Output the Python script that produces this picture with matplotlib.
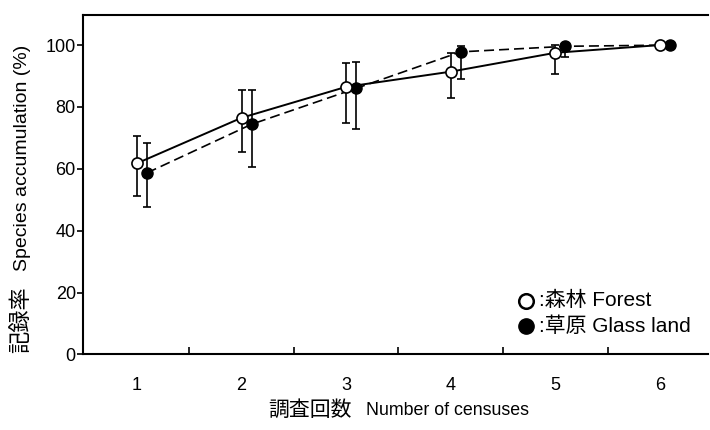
import matplotlib
matplotlib.use("Agg")
import matplotlib.pyplot as plt
from matplotlib.lines import Line2D
import numpy as np

plt.rcParams['font.family'] = ['Liberation Sans', 'Noto Sans CJK JP', 'DejaVu Sans']

censuses = [1, 2, 3, 4, 5, 6]
x_labels = ['1', '2', '3', '4', '5', '6']

forest_mean = [61.8, 76.5, 86.5, 91.4, 97.5, 100.0]
forest_upper = [70.7, 85.5, 94.1, 97.3, 100.0, 100.0]
forest_lower = [51.2, 65.5, 74.7, 82.8, 90.5, 100.0]

grass_mean = [58.7, 74.4, 86.0, 97.8, 99.6, 100.0]
grass_upper = [68.2, 85.5, 94.6, 99.7, 99.6, 100.0]
grass_lower = [47.6, 60.5, 72.9, 88.9, 96.0, 100.0]

y_ticks = [0, 20, 40, 60, 80, 100]

fig = plt.figure(figsize=(7.1, 4.3), dpi=100)
ax = fig.add_axes([0.1165, 0.1756, 0.997 - 0.1165, 0.965 - 0.1756])

x = np.array(censuses, dtype=float)
xf = x
xg = x + 0.095

fm = np.array(forest_mean)
gm = np.array(grass_mean)
f_err = [fm - np.array(forest_lower), np.array(forest_upper) - fm]
g_err = [gm - np.array(grass_lower), np.array(grass_upper) - gm]

# error bars
ax.errorbar(xf, fm, yerr=f_err, fmt='none', ecolor='black', elinewidth=1.2,
            capsize=3.0, capthick=1.2, zorder=2)
ax.errorbar(xg, gm, yerr=g_err, fmt='none', ecolor='black', elinewidth=1.2,
            capsize=3.0, capthick=1.2, zorder=2)

# lines
ax.plot(xf, fm, color='black', lw=1.4, zorder=3)
ax.plot(xg, gm, color='black', lw=1.2, dashes=(6, 3), zorder=3)

# markers
ax.plot(xg, gm, 'o', ms=8, mfc='black', mec='black', mew=1.0, zorder=4)
ax.plot(xf, fm, 'o', ms=8, mfc='white', mec='black', mew=1.2, zorder=5)

ax.set_xlim(0.48, 6.46)
ax.set_ylim(0, 109.7)

# spines
ax.spines['right'].set_visible(False)
for s in ['left', 'bottom', 'top']:
    ax.spines[s].set_linewidth(1.5)

# y ticks
ax.set_yticks(y_ticks)
ax.set_yticklabels([str(v) for v in y_ticks], fontsize=13)
ax.tick_params(axis='y', direction='out', length=4, width=1.2, pad=1)

# x ticks: labels at integers (no tick marks), tick marks at half positions
ax.set_xticks(censuses)
ax.set_xticklabels(x_labels, fontsize=13)
ax.tick_params(axis='x', which='major', length=0, pad=16)
ax.set_xticks([1.5, 2.5, 3.5, 4.5, 5.5], minor=True)
ax.tick_params(axis='x', which='minor', direction='in', length=5, width=1.2)

# y axis label (Japanese + English parts)
fig.text(0.031, 1 - 353 / 430, '記録率', rotation=90, ha='center', va='bottom',
         fontsize=16)
fig.text(0.031, 1 - 45 / 430, 'Species accumulation (%)', rotation=90,
         ha='center', va='top', fontsize=14)

# x axis label
fig.text(268 / 710, 0.0465, '調査回数', ha='left', va='center', fontsize=15)
fig.text(366 / 710, 0.0465, 'Number of censuses', ha='left', va='center',
         fontsize=12.8)

# legend (drawn manually)
mx = 525.7 / 710
rows_y = [1 - 300.7 / 430, 1 - 326 / 430]
fig.add_artist(Line2D([mx], [rows_y[0]], transform=fig.transFigure, marker='o',
                      ls='none', ms=10.5, mfc='white', mec='black', mew=1.8))
fig.add_artist(Line2D([mx], [rows_y[1]], transform=fig.transFigure, marker='o',
                      ls='none', ms=11, mfc='black', mec='black'))
fig.text(539 / 710, rows_y[0], ':森林 Forest', ha='left', va='center', fontsize=15)
fig.text(539 / 710, rows_y[1], ':草原 Glass land', ha='left', va='center', fontsize=15)

fig.savefig('out.png', dpi=100)
